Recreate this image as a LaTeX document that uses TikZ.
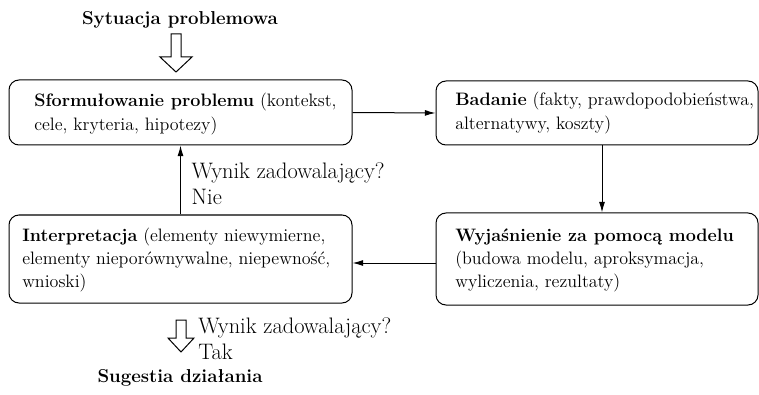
\documentclass[tikz,border=0pt]{standalone}
\usepackage{fontspec}
\usetikzlibrary{arrows.meta}
\tikzstyle{stage}=[draw,rounded corners=7.5pt,line width=0.75pt,inner sep=0pt]
\tikzstyle{stagetext}=[anchor=west,align=left,inner sep=0pt,font=\fontsize{13.5pt}{17.3pt}\selectfont]
\tikzstyle{heading}=[inner sep=0pt,font=\fontsize{14pt}{19pt}\selectfont\bfseries]
\tikzstyle{answer}=[anchor=west,align=left,inner sep=0pt,font=\fontsize{16.8pt}{19.5pt}\selectfont]
\tikzstyle{edge}=[draw,line width=0.75pt,-{Latex[length=8pt,width=4.5pt]}]
\tikzstyle{hollow}=[draw,line width=0.75pt,line join=miter,fill=white]

\begin{document}
\begin{tikzpicture}[x=0.75pt,y=-0.75pt]
    \useasboundingbox[fill=white] (0,0) rectangle (759,395);
    % First we draw the four stages
    \node[stage, minimum width=257.25pt, minimum height=48.75pt] (form) at (180.5,112.5) {};
    \node[stage, minimum width=241.5pt, minimum height=48pt] (bad) at (597,113) {};
    \node[stage, minimum width=241.5pt, minimum height=69pt] (wyj) at (597,259) {};
    \node[stage, minimum width=257.25pt, minimum height=66pt] (int) at (180.5,259) {};
    % Texts inside the stages
    \node[stagetext] (formtxt) at (34,114) {\textbf{Sformułowanie problemu} (kontekst,\\cele, kryteria, hipotezy)};
    \node[stagetext] (badtxt) at (455,113) {\textbf{Badanie} (fakty, prawdopodobieństwa,\\alternatywy, koszty)};
    \node[stagetext] (wyjtxt) at (455,260) {\textbf{Wyjaśnienie za pomocą modelu}\\(budowa modelu, aproksymacja,\\wyliczenia, rezultaty)};
    \node[stagetext] (inttxt) at (22,260) {\textbf{Interpretacja} (elementy niewymierne,\\elementy nieporównywalne, niepewność,\\wnioski)};

    % Connect stages with edges
    \path[edge] (form.east) -- (bad.west);
    \path[edge] ([xshift=3.75pt]bad.south) -- ([xshift=3.75pt]wyj.north);
    \path[edge] ([yshift=-3pt]wyj.west) -- ([yshift=-3pt]int.east);
    \path[edge] (int.north) -- node[answer, pos=0.44, xshift=8pt] (no) {Wynik zadowalający?\\Nie} (form.south);

    % Start and end of the loop
    \node[heading] (sit) at (180,20) {Sytuacja problemowa};
    \coordinate (inflow) at (176,34);
    \draw[hollow] (inflow) ++(-5,0) -- ++(0,23) -- ++(-11,0) -- ++(16,15) -- ++(16,-15) -- ++(-11,0) -- ++(0,-23) -- cycle;
    \coordinate (outflow) at (181,320);
    \draw[hollow] (outflow) ++(-5,0) -- ++(0,18) -- ++(-8,0) -- ++(13,14) -- ++(13,-14) -- ++(-8,0) -- ++(0,-18) -- cycle;
    \node[answer] (yes) at (198,339) {Wynik zadowalający?\\Tak};
    \node[heading] (sug) at (180,378) {Sugestia działania};
\end{tikzpicture}
\end{document}
